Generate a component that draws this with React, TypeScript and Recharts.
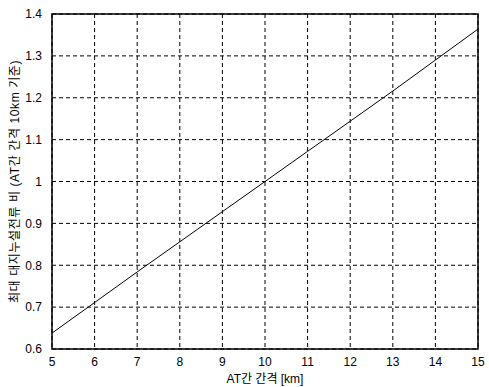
import { LineChart, Line, XAxis, YAxis, CartesianGrid, ReferenceArea } from "recharts";

// AT spacing [km] vs. max ground leakage current ratio (relative to 10km)
const spacingKm = [5, 6, 7, 8, 9, 10, 11, 12, 13, 14, 15];
const currentRatio = [0.638, 0.711, 0.784, 0.856, 0.928, 1.0, 1.072, 1.144, 1.216, 1.29, 1.364];

const xTicks = [5, 6, 7, 8, 9, 10, 11, 12, 13, 14, 15];
const yTicks = [0.6, 0.7, 0.8, 0.9, 1, 1.1, 1.2, 1.3, 1.4];

const data = spacingKm.map((x, i) => ({ x, ratio: currentRatio[i] }));

const font = "'Liberation Sans', Arial, 'Noto Sans CJK KR', sans-serif";

export default function App() {
  return (
    <div style={{ position: "absolute", left: 0, top: 0, width: 489, height: 387, background: "#fff" }}>
      <LineChart width={489} height={387} data={data} margin={{ top: 14, right: 11, bottom: 0, left: 0 }}>
        <CartesianGrid stroke="#000" strokeDasharray="4 3" strokeWidth={1} />
        <XAxis
          dataKey="x"
          type="number"
          domain={[5, 15]}
          ticks={xTicks}
          height={38}
          axisLine={false}
          tickLine={false}
          tick={{ fill: "#000", fontSize: 12, fontFamily: font }}
          tickMargin={2}
          label={{
            value: "AT간 간격 [km]",
            position: "insideBottom",
            offset: 4,
            fill: "#000",
            fontSize: 12,
            fontFamily: font,
          }}
        />
        <YAxis
          type="number"
          domain={[0.6, 1.4]}
          ticks={yTicks}
          width={52}
          axisLine={false}
          tickLine={false}
          tick={{ fill: "#000", fontSize: 12, fontFamily: font }}
          tickMargin={4}
          label={{
            value: "최대 대지누설전류 비 (AT간 간격 10km 기준)",
            angle: -90,
            position: "center",
            dx: -11,
            fill: "#000",
            fontSize: 12,
            letterSpacing: 0.6,
            fontFamily: font,
          }}
        />
        <ReferenceArea x1={5} x2={15} y1={0.6} y2={1.4} fill="none" stroke="#000" strokeWidth={1.5} ifOverflow="visible" />
        <Line
          type="linear"
          dataKey="ratio"
          stroke="#000"
          strokeWidth={1}
          dot={false}
          isAnimationActive={false}
        />
      </LineChart>
    </div>
  );
}
